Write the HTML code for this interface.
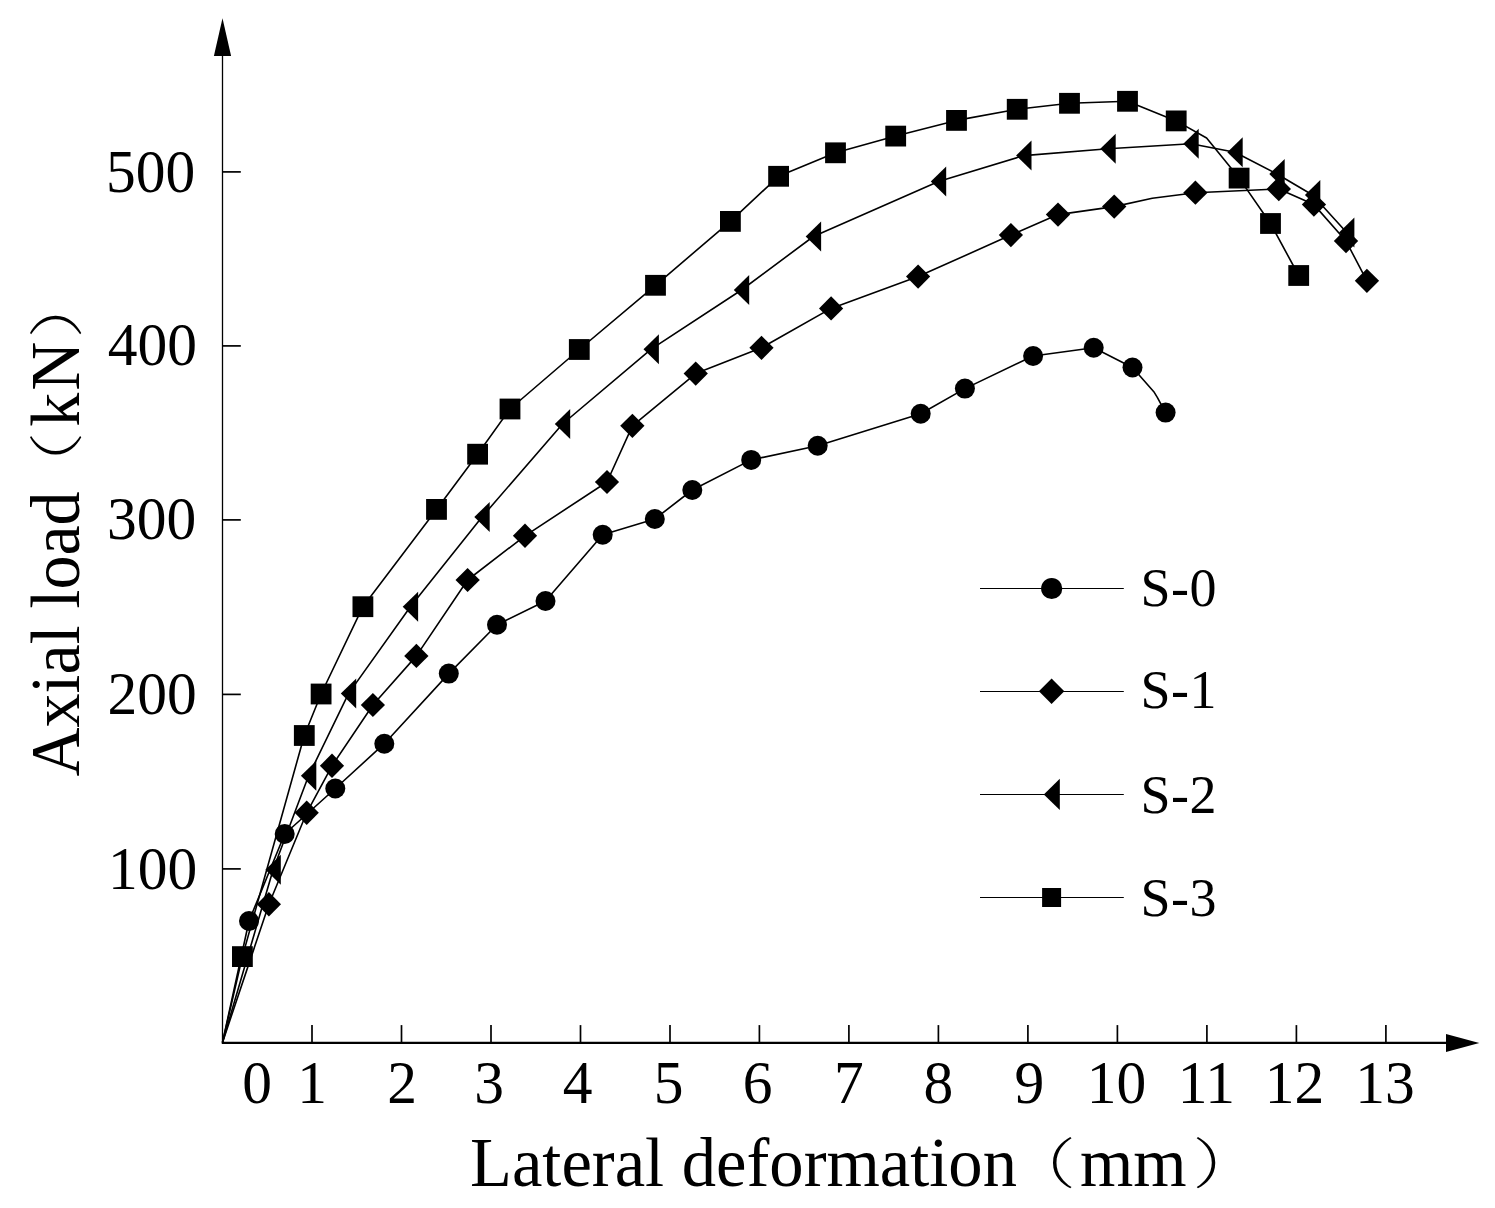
<!DOCTYPE html>
<html><head><meta charset="utf-8"><title>Axial load vs lateral deformation</title>
<style>
html,body{margin:0;padding:0;background:#fff;}
body{width:1495px;height:1208px;overflow:hidden;}
svg{display:block;}
text{font-family:"Liberation Serif","Noto Serif CJK SC",serif;fill:#000;}
.cjk{font-family:"Noto Serif CJK SC","Liberation Serif",serif;}
</style></head><body>
<svg width="1495" height="1208" viewBox="0 0 1495 1208">
<rect width="1495" height="1208" fill="#fff"/>

<g stroke="#000" fill="none">
<line x1="222.5" y1="1043.9" x2="222.5" y2="50" stroke-width="1.3"/>
<line x1="221.9" y1="1042.9" x2="1450" y2="1042.9" stroke-width="2.1"/>
<line x1="312.0" y1="1042.9" x2="312.0" y2="1025.1000000000001" stroke-width="1.7"/>
<line x1="401.5" y1="1042.9" x2="401.5" y2="1025.1000000000001" stroke-width="1.7"/>
<line x1="491.0" y1="1042.9" x2="491.0" y2="1025.1000000000001" stroke-width="1.7"/>
<line x1="580.5" y1="1042.9" x2="580.5" y2="1025.1000000000001" stroke-width="1.7"/>
<line x1="670.0" y1="1042.9" x2="670.0" y2="1025.1000000000001" stroke-width="1.7"/>
<line x1="759.4" y1="1042.9" x2="759.4" y2="1025.1000000000001" stroke-width="1.7"/>
<line x1="848.9" y1="1042.9" x2="848.9" y2="1025.1000000000001" stroke-width="1.7"/>
<line x1="938.4" y1="1042.9" x2="938.4" y2="1025.1000000000001" stroke-width="1.7"/>
<line x1="1027.9" y1="1042.9" x2="1027.9" y2="1025.1000000000001" stroke-width="1.7"/>
<line x1="1117.4" y1="1042.9" x2="1117.4" y2="1025.1000000000001" stroke-width="1.7"/>
<line x1="1206.9" y1="1042.9" x2="1206.9" y2="1025.1000000000001" stroke-width="1.7"/>
<line x1="1296.4" y1="1042.9" x2="1296.4" y2="1025.1000000000001" stroke-width="1.7"/>
<line x1="1385.9" y1="1042.9" x2="1385.9" y2="1025.1000000000001" stroke-width="1.7"/>
<line x1="222.5" y1="868.9" x2="240.8" y2="868.9" stroke-width="1.7"/>
<line x1="222.5" y1="694.4" x2="240.8" y2="694.4" stroke-width="1.7"/>
<line x1="222.5" y1="519.9" x2="240.8" y2="519.9" stroke-width="1.7"/>
<line x1="222.5" y1="345.9" x2="240.8" y2="345.9" stroke-width="1.7"/>
<line x1="222.5" y1="171.9" x2="240.8" y2="171.9" stroke-width="1.7"/>
</g>
<path d="M222.5,18.3 L213.9,56 L231.1,56Z" fill="#000"/>
<path d="M1479.3,1042.9 L1446,1033.9 L1446,1051.9Z" fill="#000"/>
<g font-size="59.5" text-anchor="middle">
<text transform="translate(257,1103.3) scale(1,1.03)">0</text>
<text transform="translate(312.0,1103.3) scale(1,1.03)">1</text>
<text transform="translate(402.0,1103.3) scale(1,1.03)">2</text>
<text transform="translate(489.0,1103.3) scale(1,1.03)">3</text>
<text transform="translate(577.5,1103.3) scale(1,1.03)">4</text>
<text transform="translate(668.5,1103.3) scale(1,1.03)">5</text>
<text transform="translate(757.7,1103.3) scale(1,1.03)">6</text>
<text transform="translate(848.9,1103.3) scale(1,1.03)">7</text>
<text transform="translate(938.4,1103.3) scale(1,1.03)">8</text>
<text transform="translate(1029.4,1103.3) scale(1,1.03)">9</text>
<text transform="translate(1116.4,1103.3) scale(1,1.03)">10</text>
<text transform="translate(1206.4,1103.3) scale(1,1.03)">11</text>
<text transform="translate(1294.4,1103.3) scale(1,1.03)">12</text>
<text transform="translate(1384.9,1103.3) scale(1,1.03)">13</text>
</g>
<g font-size="59.5">
<text transform="translate(108.0,888.8) scale(1,1.03)">100</text>
<text transform="translate(107.4,713.8) scale(1,1.03)">200</text>
<text transform="translate(107.0,538.8) scale(1,1.03)">300</text>
<text transform="translate(107.8,364.8) scale(1,1.03)">400</text>
<text transform="translate(106.0,191.8) scale(1,1.03)">500</text>
</g>
<text font-size="68.6" transform="translate(470,1186) scale(1,1.02)" word-spacing="0.5">Lateral deformation</text>
<text font-size="55" font-weight="200" class="cjk" transform="translate(1009.8,1183) scale(1.2,1)">（</text>
<text font-size="68.6" transform="translate(1080,1186) scale(1,1.02)">mm</text>
<text font-size="55" font-weight="200" class="cjk" transform="translate(1192.6,1183) scale(1.2,1)">）</text>
<g transform="translate(79,776.5) rotate(-90)">
<text font-size="68" transform="scale(1,1.02)">Axial load</text>
<text font-size="55" font-weight="200" class="cjk" transform="translate(278.8,-3.5) scale(1.2,1)">（</text>
<text font-size="68" transform="translate(349.8,0) scale(1,1.02)" letter-spacing="2">kN</text>
<text font-size="55" font-weight="200" class="cjk" transform="translate(438.1,-3.5) scale(1.2,1)">）</text>
</g>
<g stroke="#000" stroke-width="1.6" fill="none" stroke-linejoin="round">
<path d="M222.5,1042.4 L249.0,921.0 L284.7,834.0 L335.3,788.5 L384.3,743.7 L448.8,673.6 L497.0,624.7 L545.5,601.0 L602.7,534.8 L654.8,519.0 L692.3,490.0 L751.2,459.9 L817.7,445.8 L920.7,413.7 L964.9,388.6 L1033.1,356.0 L1093.7,347.7 L1132.5,367.5 L1153.8,391.7 L1157.3,397.3 L1165.6,412.6"/>
<path d="M222.5,1042.4 L268.9,904.2 L306.7,812.8 L332.0,765.8 L372.9,705.0 L416.4,655.9 L467.6,580.0 L525.0,535.8 L607.0,482.0 L632.4,425.8 L695.7,373.6 L761.5,347.8 L831.1,308.4 L918.1,276.6 L1010.9,235.1 L1058.0,214.6 L1114.2,206.6 L1152.3,198.2 L1195.4,192.7 L1278.8,189.0 L1313.9,204.6 L1346.0,241.0 L1366.9,280.8"/>
<path d="M222.5,1042.4 L273.1,869.8 L308.6,775.8 L348.5,693.6 L410.4,606.7 L482.0,517.0 L562.5,424.0 L651.2,349.2 L741.5,290.0 L813.4,236.5 L938.5,181.6 L1023.8,155.6 L1108.0,148.7 L1191.0,143.7 L1235.0,152.3 L1277.0,174.0 L1312.6,195.0 L1346.7,232.5"/>
<path d="M222.5,1042.4 L242.4,956.6 L304.3,735.5 L321.1,694.0 L362.9,606.7 L436.5,509.4 L477.6,454.2 L510.0,409.0 L579.3,349.5 L655.5,285.3 L730.4,221.4 L778.6,176.3 L835.5,152.8 L895.7,136.1 L956.5,120.4 L1017.2,109.3 L1069.5,103.3 L1127.5,101.3 L1176.2,120.9 L1206.6,138.0 L1239.1,178.1 L1270.5,223.5 L1298.7,275.5"/>
</g>
<g fill="#000">
<circle cx="249.0" cy="921.0" r="10"/>
<circle cx="284.7" cy="834.0" r="10"/>
<circle cx="335.3" cy="788.5" r="10"/>
<circle cx="384.3" cy="743.7" r="10"/>
<circle cx="448.8" cy="673.6" r="10"/>
<circle cx="497.0" cy="624.7" r="10"/>
<circle cx="545.5" cy="601.0" r="10"/>
<circle cx="602.7" cy="534.8" r="10"/>
<circle cx="654.8" cy="519.0" r="10"/>
<circle cx="692.3" cy="490.0" r="10"/>
<circle cx="751.2" cy="459.9" r="10"/>
<circle cx="817.7" cy="445.8" r="10"/>
<circle cx="920.7" cy="413.7" r="10"/>
<circle cx="964.9" cy="388.6" r="10"/>
<circle cx="1033.1" cy="356.0" r="10"/>
<circle cx="1093.7" cy="347.7" r="10"/>
<circle cx="1132.5" cy="367.5" r="10"/>
<circle cx="1165.6" cy="412.6" r="10"/>
<path d="M256.8,904.2 L268.9,892.1 L281.0,904.2 L268.9,916.4Z"/>
<path d="M294.6,812.8 L306.7,800.6 L318.8,812.8 L306.7,824.9Z"/>
<path d="M319.9,765.8 L332.0,753.6 L344.1,765.8 L332.0,777.9Z"/>
<path d="M360.8,705.0 L372.9,692.9 L385.0,705.0 L372.9,717.1Z"/>
<path d="M404.2,655.9 L416.4,643.8 L428.5,655.9 L416.4,668.0Z"/>
<path d="M455.5,580.0 L467.6,567.9 L479.8,580.0 L467.6,592.1Z"/>
<path d="M512.9,535.8 L525.0,523.6 L537.1,535.8 L525.0,547.9Z"/>
<path d="M594.9,482.0 L607.0,469.9 L619.1,482.0 L607.0,494.1Z"/>
<path d="M620.2,425.8 L632.4,413.7 L644.5,425.8 L632.4,437.9Z"/>
<path d="M683.6,373.6 L695.7,361.5 L707.9,373.6 L695.7,385.8Z"/>
<path d="M749.4,347.8 L761.5,335.7 L773.6,347.8 L761.5,359.9Z"/>
<path d="M819.0,308.4 L831.1,296.2 L843.2,308.4 L831.1,320.5Z"/>
<path d="M906.0,276.6 L918.1,264.5 L930.2,276.6 L918.1,288.8Z"/>
<path d="M998.8,235.1 L1010.9,222.9 L1023.0,235.1 L1010.9,247.2Z"/>
<path d="M1045.8,214.6 L1058.0,202.4 L1070.2,214.6 L1058.0,226.8Z"/>
<path d="M1102.0,206.6 L1114.2,194.4 L1126.4,206.6 L1114.2,218.8Z"/>
<path d="M1183.2,192.7 L1195.4,180.5 L1207.6,192.7 L1195.4,204.8Z"/>
<path d="M1266.6,189.0 L1278.8,176.8 L1291.0,189.0 L1278.8,201.2Z"/>
<path d="M1301.8,204.6 L1313.9,192.4 L1326.1,204.6 L1313.9,216.8Z"/>
<path d="M1333.8,241.0 L1346.0,228.8 L1358.2,241.0 L1346.0,253.2Z"/>
<path d="M1354.8,280.8 L1366.9,268.7 L1379.1,280.8 L1366.9,292.9Z"/>
<path d="M265.4,869.8 L280.8,854.8 L280.8,884.8Z"/>
<path d="M300.9,775.8 L316.3,760.8 L316.3,790.8Z"/>
<path d="M340.8,693.6 L356.2,678.6 L356.2,708.6Z"/>
<path d="M402.7,606.7 L418.1,591.7 L418.1,621.7Z"/>
<path d="M474.3,517.0 L489.7,502.0 L489.7,532.0Z"/>
<path d="M554.8,424.0 L570.2,409.0 L570.2,439.0Z"/>
<path d="M643.5,349.2 L658.9,334.2 L658.9,364.2Z"/>
<path d="M733.8,290.0 L749.2,275.0 L749.2,305.0Z"/>
<path d="M805.7,236.5 L821.1,221.5 L821.1,251.5Z"/>
<path d="M930.8,181.6 L946.2,166.6 L946.2,196.6Z"/>
<path d="M1016.1,155.6 L1031.5,140.6 L1031.5,170.6Z"/>
<path d="M1100.3,148.7 L1115.7,133.7 L1115.7,163.7Z"/>
<path d="M1183.3,143.7 L1198.7,128.7 L1198.7,158.7Z"/>
<path d="M1227.3,152.3 L1242.7,137.3 L1242.7,167.3Z"/>
<path d="M1269.3,174.0 L1284.7,159.0 L1284.7,189.0Z"/>
<path d="M1304.9,195.0 L1320.3,180.0 L1320.3,210.0Z"/>
<path d="M1339.0,232.5 L1354.4,217.5 L1354.4,247.5Z"/>
<rect x="232.0" y="946.2" width="20.8" height="20.8"/>
<rect x="293.9" y="725.1" width="20.8" height="20.8"/>
<rect x="310.7" y="683.6" width="20.8" height="20.8"/>
<rect x="352.5" y="596.3" width="20.8" height="20.8"/>
<rect x="426.1" y="499.0" width="20.8" height="20.8"/>
<rect x="467.2" y="443.8" width="20.8" height="20.8"/>
<rect x="499.6" y="398.6" width="20.8" height="20.8"/>
<rect x="568.9" y="339.1" width="20.8" height="20.8"/>
<rect x="645.1" y="274.9" width="20.8" height="20.8"/>
<rect x="720.0" y="211.0" width="20.8" height="20.8"/>
<rect x="768.2" y="165.9" width="20.8" height="20.8"/>
<rect x="825.1" y="142.4" width="20.8" height="20.8"/>
<rect x="885.3" y="125.7" width="20.8" height="20.8"/>
<rect x="946.1" y="110.0" width="20.8" height="20.8"/>
<rect x="1006.8" y="98.9" width="20.8" height="20.8"/>
<rect x="1059.1" y="92.9" width="20.8" height="20.8"/>
<rect x="1117.1" y="90.9" width="20.8" height="20.8"/>
<rect x="1165.8" y="110.5" width="20.8" height="20.8"/>
<rect x="1228.7" y="167.7" width="20.8" height="20.8"/>
<rect x="1260.1" y="213.1" width="20.8" height="20.8"/>
<rect x="1288.3" y="265.1" width="20.8" height="20.8"/>
</g>
<g stroke="#000" stroke-width="1.15">
<line x1="980" y1="588.5" x2="1123.8" y2="588.5"/>
<line x1="980" y1="691.5" x2="1123.8" y2="691.5"/>
<line x1="980" y1="794.5" x2="1123.8" y2="794.5"/>
<line x1="980" y1="897.5" x2="1123.8" y2="897.5"/>
</g>
<g fill="#000">
<circle cx="1051.7" cy="588.5" r="10.6"/>
<path d="M1038.9,691.3 L1051.6,678.6 L1064.3,691.3 L1051.6,704.0Z"/>
<path d="M1043.8,794.4 L1059.8,778.8 L1059.8,810.0Z"/>
<rect x="1042.1" y="888.0" width="19.0" height="19.0"/>
</g>
<g font-size="54" letter-spacing="0.5">
<text transform="translate(1140.4,605.6) scale(1,1.03)">S-0</text>
<text transform="translate(1140.4,708.3) scale(1,1.03)">S-1</text>
<text transform="translate(1140.4,812.8) scale(1,1.03)">S-2</text>
<text transform="translate(1140.4,915.7) scale(1,1.03)">S-3</text>
</g>
</svg></body></html>
